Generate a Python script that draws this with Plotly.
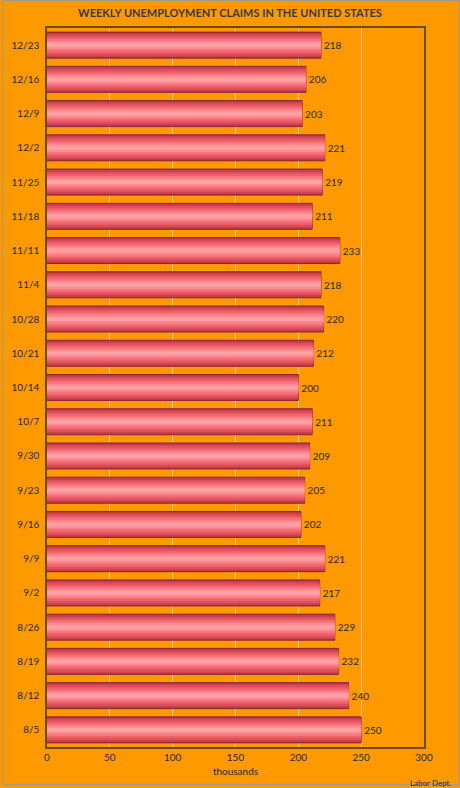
import plotly.graph_objects as go


weeks = ['8/5', '8/12', '8/19', '8/26', '9/2', '9/9', '9/16', '9/23', '9/30', '10/7',
         '10/14', '10/21', '10/28', '11/4', '11/11', '11/18', '11/25', '12/2', '12/9',
         '12/16', '12/23']
claims = [250, 240, 232, 229, 217, 221, 202, 205, 209, 211,
          200, 212, 220, 218, 233, 211, 219, 221, 203, 206, 218]

x_ticks = [0, 50, 100, 150, 200, 250, 300]

# fake the cylinder look with stacked (overlaid) bars, outside -> inside
layers = [
    (0.76, '#b03240'),
    (0.70, '#cb404f'),
    (0.60, '#e0505c'),
    (0.48, '#ed616b'),
    (0.36, '#f6757d'),
    (0.24, '#fc8a90'),
    (0.12, '#ffa0a4'),
]

font = 'Lato'

fig = go.Figure()
for i, (w, c) in enumerate(layers):
    fig.add_trace(go.Bar(
        y=weeks, x=claims, orientation='h', width=w,
        marker=dict(color=c, line=dict(color='#8a2833' if i == 0 else c,
                                       width=1 if i == 0 else 0)),
        text=claims if i == 0 else None,
        textposition='outside' if i == 0 else 'none',
        textfont=dict(size=10, color='#2b2b2b', family=font),
        cliponaxis=False,
        hoverinfo='skip' if i else None,
        showlegend=False,
    ))

fig.update_layout(
    width=460, height=788,
    barmode='overlay',
    paper_bgcolor='#ff9900',
    plot_bgcolor='#ff9900',
    margin=dict(l=45, r=36, t=28, b=38),
    font=dict(family=font, size=10, color='#2b2b2b'),
    title=dict(text='<b>WEEKLY UNEMPLOYMENT CLAIMS IN THE UNITED STATES</b>',
               x=0.5, xanchor='center', y=0.983, yanchor='middle',
               font=dict(size=11, color='#3a3a3a', family=font)),
    xaxis=dict(range=[0, 300], tickvals=x_ticks, showgrid=True,
               gridcolor='#f7c98a', gridwidth=1.2,
               showline=True, linecolor='#6e4a12', linewidth=1.5, mirror=True,
               zeroline=False, ticks='', tickfont=dict(size=10),
               title=dict(text='thousands', font=dict(size=10), standoff=6)),
    yaxis=dict(showgrid=False, showline=True, linecolor='#6e4a12', linewidth=1.5,
               mirror=True, ticks='', tickfont=dict(size=10), ticklabelstandoff=4),
    annotations=[dict(text='Labor Dept.', xref='paper', yref='paper',
                      x=1 + 29 / 379, y=-36 / 722, xanchor='right', yanchor='middle',
                      showarrow=False, font=dict(size=8, color='#2b2b2b'))],
    shapes=[dict(type='rect', xref='paper', yref='paper',
                 x0=-44.5 / 379, x1=1 + 35.5 / 379, y0=-37.5 / 722, y1=1 + 27.5 / 722,
                 line=dict(color='#9a9a9a', width=1), layer='below')],
)

# drop the default page margin so the chart sits at the window's corner
fig.write_html('out.html', config={'displayModeBar': False},
               post_script="document.body.style.margin='0';document.body.style.background='#ff9900';")
